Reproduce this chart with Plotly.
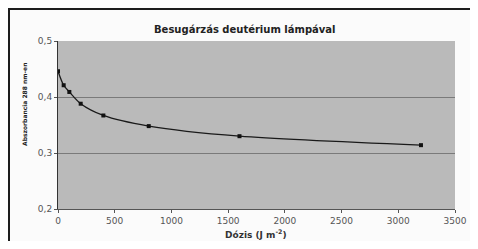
import plotly.graph_objects as go

dose = [0, 50, 100, 200, 400, 800, 1600, 3200]
absorbance = [0.446, 0.421, 0.409, 0.388, 0.367, 0.348, 0.330, 0.314]

x_ticks = [0, 500, 1000, 1500, 2000, 2500, 3000, 3500]
y_ticks = [0.2, 0.3, 0.4, 0.5]
y_tick_labels = ["0,2", "0,3", "0,4", "0,5"]

title_text = "Besugárzás deutérium lámpával"
y_title = "Abszorbancia 288 nm-en"
x_title = "Dózis (J m<sup>-2</sup>)"

# page body has an 8px margin; figure placed at (8, 8)
OFF = 8
W, H = 462, 233
L, R, T, B = 50, 15, 33, 32
pw, ph = W - L - R, H - T - B


def px(x):
    return (x - OFF - L) / pw


def py(y):
    return (H - B - (y - OFF)) / ph


fig = go.Figure()
fig.add_trace(go.Scatter(
    x=dose, y=absorbance, mode="lines+markers",
    line=dict(color="#1a1a1a", width=1.3, shape="spline", smoothing=0.8),
    marker=dict(color="#111111", size=4, symbol="square"),
    showlegend=False, hoverinfo="skip",
))

font_fam = "DejaVu Sans, Verdana, sans-serif"

fig.update_layout(
    width=W, height=H,
    margin=dict(l=L, r=R, t=T, b=B, autoexpand=False),
    paper_bgcolor="#fbfbfb",
    plot_bgcolor="#bababa",
    font=dict(family=font_fam, color="#444444", size=9),
    xaxis=dict(
        range=[0, 3500], tickvals=x_ticks, ticktext=[str(v) for v in x_ticks],
        showgrid=False, zeroline=False, showline=True, linecolor="#555555", linewidth=1,
        ticks="outside", ticklen=3, tickcolor="#555555",
        tickfont=dict(size=9, color="#555555"), automargin=False,
    ),
    yaxis=dict(
        range=[0.2, 0.5], tickvals=y_ticks, ticktext=y_tick_labels,
        showgrid=True, gridcolor="#7a7a7a", gridwidth=1, zeroline=False,
        showline=True, linecolor="#333333", linewidth=1,
        ticks="outside", ticklen=3, tickcolor="#555555",
        tickfont=dict(size=9, color="#555555"), automargin=False,
    ),
    annotations=[
        dict(text="<b>" + title_text + "</b>", x=px(245), y=py(29), xref="paper", yref="paper",
             xanchor="center", yanchor="middle",
             showarrow=False, font=dict(size=10, color="#222222", family=font_fam)),
        dict(text="<b>" + y_title + "</b>", x=px(24), y=py(105), xref="paper", yref="paper",
             xanchor="center", yanchor="middle",
             showarrow=False, textangle=-90, font=dict(size=6, color="#222222", family=font_fam)),
        dict(text="<b>" + x_title + "</b>", x=px(256), y=py(234.5), xref="paper", yref="paper",
             xanchor="center", yanchor="middle",
             showarrow=False, font=dict(size=9, color="#333333", family=font_fam)),
    ],
    shapes=[
        dict(type="line", xref="paper", yref="paper", x0=px(9), x1=px(9), y0=py(9), y1=py(260),
             line=dict(color="#1e1e1e", width=2)),
        dict(type="line", xref="paper", yref="paper", x0=px(8), x1=px(490), y0=py(9), y1=py(9),
             line=dict(color="#1e1e1e", width=2)),
    ],
)

fig.write_html("out.html")
